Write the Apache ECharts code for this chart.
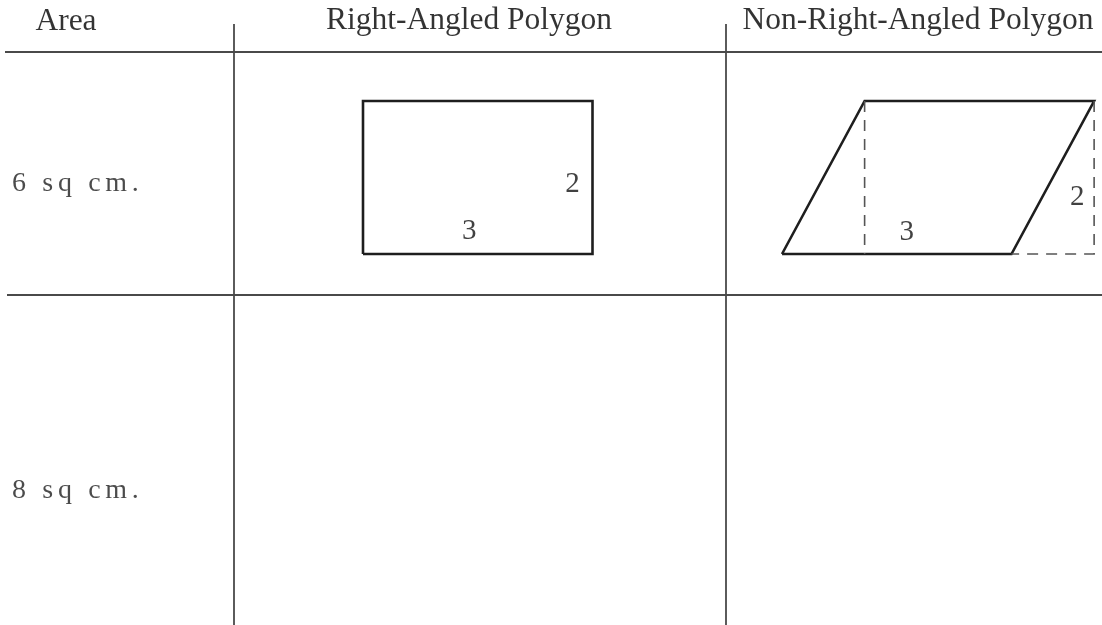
<!DOCTYPE html>
<html>
<head>
<meta charset="utf-8">
<script src="https://cdn.jsdelivr.net/npm/echarts@6/dist/echarts.min.js"></script>
<style>
html,body{margin:0;padding:0;background:#fff;}
#chart{width:1102px;height:625px;}
</style>
</head>
<body>
<div id="chart"></div>
<script>
// ---- data ----
const columns = ['Area', 'Right-Angled Polygon', 'Non-Right-Angled Polygon'];
const rows = ['6 sq cm.', '8 sq cm.'];
const rectSides = [3, 2];          // base, height (cm)
const paraSides = [3, 2];          // base, height (cm)
const paraSlant = 1.08;            // horizontal offset of the top edge (cm)
const sideLabels = ['3', '2'];     // base label, height label

// ---- layout (px in the chart's coordinate space) ----
const W = 1102, H = 625;
const unit = 76.5;
const rectOrigin = [363, 254];
const paraOrigin = [782, 254];
const headerLineY = 52, rowLineY = 295;
const colLinesX = [234, 726];
const headerPos = [[66, 22], [469, 21], [918, 21]];
const rowPos = [[12, 184], [12, 491]];
const FONT = "'Liberation Serif', 'DejaVu Serif', serif";

function P(origin, x, y) { return [origin[0] + x * unit, origin[1] - y * unit]; }
function spaced(s) { return s.split('').join('\u2006'); }

const lineCol = '#4a4a4a';
const shapeCol = '#1e1e1e';
const series = [];

function seg(pts, style) {
  series.push({
    type: 'line', data: pts, symbol: 'none', silent: true, animation: false,
    lineStyle: Object.assign({ join: 'miter', cap: 'butt' }, style)
  });
}

// table lines
seg([[5, headerLineY], [W, headerLineY]], { color: lineCol, width: 1.8 });
seg([[7, rowLineY], [W, rowLineY]], { color: lineCol, width: 1.8 });
colLinesX.forEach(x => seg([[x, 24], [x, H]], { color: lineCol, width: 1.8 }));

// rectangle
const [rb, rh] = rectSides;
seg([P(rectOrigin, 0, 0), P(rectOrigin, rb, 0), P(rectOrigin, rb, rh), P(rectOrigin, 0, rh), P(rectOrigin, 0, 0)],
    { color: shapeCol, width: 2.6 });

// parallelogram
const [pb, ph] = paraSides;
seg([P(paraOrigin, 0, 0), P(paraOrigin, pb, 0), P(paraOrigin, pb + paraSlant, ph), P(paraOrigin, paraSlant, ph), P(paraOrigin, 0, 0)],
    { color: shapeCol, width: 2.6 });
// dashed helpers
seg([P(paraOrigin, paraSlant, ph), P(paraOrigin, paraSlant, 0)], { color: '#555', width: 1.6, type: [11, 8] });
seg([P(paraOrigin, pb + paraSlant, ph), P(paraOrigin, pb + paraSlant, 0), P(paraOrigin, pb, 0)], { color: '#555', width: 1.6, type: [11, 8] });

// texts
function lbl(text, size, color, align) {
  return { show: true, position: 'inside', formatter: text, fontFamily: FONT, fontSize: size,
           color: color, align: align, verticalAlign: 'middle' };
}
const texts = [];
columns.forEach((c, i) => texts.push({ value: headerPos[i], label: lbl(c, 31.5, '#000', 'center') }));
rows.forEach((r, i) => texts.push({ value: rowPos[i], label: lbl(spaced(r), 28, '#1e1e1e', 'left') }));
// dimension labels
texts.push({ value: P(rectOrigin, 1.39, 0.3), label: lbl(sideLabels[0], 29, '#111', 'center') });
texts.push({ value: P(rectOrigin, 2.74, 0.91), label: lbl(sideLabels[1], 29, '#111', 'center') });
texts.push({ value: P(paraOrigin, 1.63, 0.28), label: lbl(sideLabels[0], 29, '#111', 'center') });
texts.push({ value: P(paraOrigin, 3.86, 0.74), label: lbl(sideLabels[1], 29, '#111', 'center') });

series.push({
  type: 'scatter', symbolSize: 0, silent: true, animation: false,
  data: texts,
  label: { show: true, fontFamily: FONT }
});

const chart = echarts.init(document.getElementById('chart'), null, { renderer: 'canvas' });
chart.setOption({
  animation: false,
  backgroundColor: '#fff',
  textStyle: { fontFamily: FONT },
  grid: { left: 0, right: 0, top: 0, bottom: 0 },
  xAxis: { type: 'value', min: 0, max: W, show: false },
  yAxis: { type: 'value', min: 0, max: H, inverse: true, show: false },
  series: series
});
</script>
</body>
</html>
